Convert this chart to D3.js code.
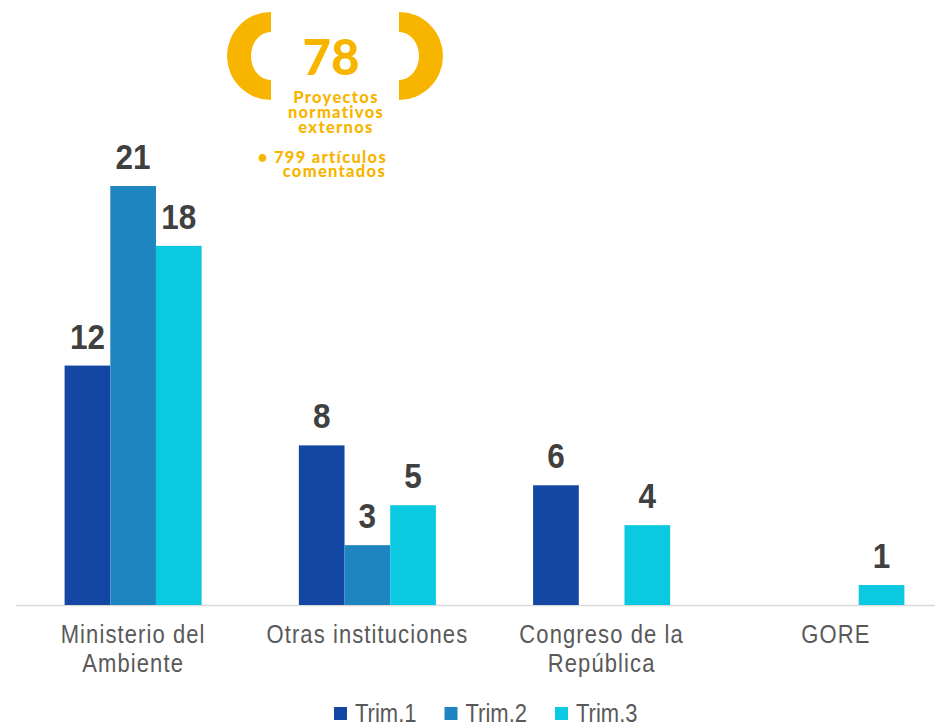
<!DOCTYPE html>
<html><head><meta charset="utf-8">
<script src="https://cdn.jsdelivr.net/npm/d3@7"></script>
<style>html,body{margin:0;padding:0;background:#fff;}svg{display:block;}</style>
</head><body>
<script>
const categories = [["Ministerio del","Ambiente"],["Otras instituciones"],["Congreso de la","República"],["GORE"]];
const categoryKeys = ["Ministerio del Ambiente","Otras instituciones","Congreso de la República","GORE"];
const series = ["Trim.1","Trim.2","Trim.3"];
const trim1 = [12, 8, 6, null];
const trim2 = [21, 3, null, null];
const trim3 = [18, 5, 4, 1];
const seriesValues = [trim1, trim2, trim3];
const colors = ["#1446a3","#1f85c0","#0bc9e0"];
const badgeNumber = "78";
const badgeLines = ["Proyectos","normativos","externos"];
const badgeNote = ["• 799 artículos","comentados"];

const W = 935, H = 725;
const SY = 1.14;
const svg = d3.select("body").append("svg").attr("width", W).attr("height", H);

const x0 = d3.scaleBand().domain(categoryKeys).range([16, 953]).paddingInner(0.415).paddingOuter(0.2075);
const x1 = d3.scaleBand().domain(series).range([0, x0.bandwidth()]);
const y = d3.scaleLinear().domain([0, 21]).range([605, 186]);

function stext(g, x, yy, t) {
  return g.append("text").attr("transform", `translate(${x},${yy}) scale(1,${SY})`).text(t);
}

// axis line
svg.append("line").attr("x1", 16).attr("x2", W).attr("y1", 605.5).attr("y2", 605.5)
  .attr("stroke", "#d9d9d9").attr("stroke-width", 1.5);

// bars
const rows = [];
categoryKeys.forEach((c, i) => series.forEach((s, j) => {
  const v = seriesValues[j][i];
  if (v != null) rows.push({c, s, v, j});
}));
svg.append("g").selectAll("rect").data(rows).join("rect")
  .attr("x", d => x0(d.c) + x1(d.s))
  .attr("width", x1.bandwidth())
  .attr("y", d => y(d.v))
  .attr("height", d => y(0) - y(d.v))
  .attr("fill", d => colors[d.j]);

// value labels
const lab = svg.append("g").attr("font-family", "'Liberation Sans', Arial, sans-serif")
  .attr("font-weight", "bold").attr("font-size", 31.5).attr("fill", "#404040").attr("text-anchor", "middle");
rows.forEach(d => stext(lab, x0(d.c) + x1(d.s) + x1.bandwidth() / 2, y(d.v) - 17, String(d.v)));

// category labels
const cat = svg.append("g").attr("font-family", "'Liberation Sans', Arial, sans-serif")
  .attr("font-size", 22).attr("fill", "#595959").attr("text-anchor", "middle").attr("letter-spacing", "1.1px");
categoryKeys.forEach((c, i) => {
  categories[i].forEach((line, k) => stext(cat, x0(c) + x0.bandwidth() / 2, 643 + k * 28.5, line));
});

// legend
const leg = svg.append("g").attr("font-family", "'Liberation Sans', Arial, sans-serif")
  .attr("font-size", 22).attr("fill", "#595959");
series.forEach((s, j) => {
  const lx = 334 + j * 110.5;
  leg.append("rect").attr("x", lx).attr("y", 707).attr("width", 13).attr("height", 13).attr("fill", colors[j]);
  stext(leg, lx + 21, 722, s);
});

// badge
const yellow = "#f8b500";
const badge = svg.append("g");
function bracket(cx, cy, dir) {
  const R = 44, rx = 20, ry = 24;
  const sweepO = dir < 0 ? 0 : 1, sweepI = dir < 0 ? 1 : 0;
  return `M${cx},${cy - R} A${R},${R} 0 0 ${sweepO} ${cx},${cy + R} L${cx},${cy + ry} A${rx},${ry} 0 0 ${sweepI} ${cx},${cy - ry} Z`;
}
badge.append("path").attr("d", bracket(271, 56, -1)).attr("fill", yellow);
badge.append("path").attr("d", bracket(399, 56, 1)).attr("fill", yellow);
const bt = badge.append("g").attr("font-family", "Lato, 'Open Sans', sans-serif").attr("font-weight", "900")
  .attr("fill", yellow).attr("text-anchor", "middle");
bt.append("text").attr("x", 331).attr("y", 75).attr("font-size", 49).text(badgeNumber);
const small = bt.append("g").attr("font-size", 16.5).attr("letter-spacing", "1.3px");
badgeLines.forEach((t, k) => small.append("text").attr("x", 336).attr("y", 103 + k * 15).text(t));
small.append("text").attr("x", 387).attr("y", 163).attr("text-anchor", "end").text(badgeNote[0]);
small.append("text").attr("x", 386).attr("y", 177).attr("text-anchor", "end").text(badgeNote[1]);
</script>
</body></html>
